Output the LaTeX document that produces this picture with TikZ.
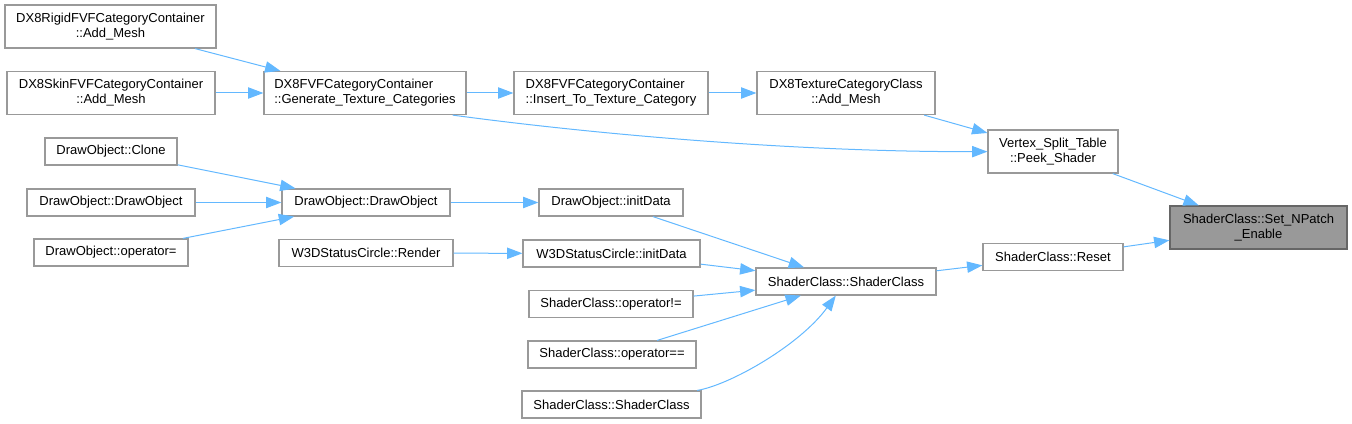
\documentclass[tikz,border=0pt]{standalone}
\usepackage{fontspec}
\setmainfont{Liberation Sans}
\usetikzlibrary{arrows.meta}
\definecolor{edgeblue}{HTML}{63B8FF}
\definecolor{boxgray}{HTML}{999999}
\definecolor{curfill}{HTML}{999999}
\definecolor{curline}{HTML}{666666}
\begin{document}
\begin{tikzpicture}[x=0.75pt,y=-0.75pt,every node/.style={font=\fontsize{9.75}{11.25}\selectfont}]
    \tikzset{
      fn/.style={draw=boxgray,fill=white,line width=0.9pt,rectangle,inner sep=0pt,
        minimum height=20.25pt,align=center},
      fnw/.style={fn,minimum height=32.25pt},
      cur/.style={fnw,draw=curline,fill=curfill},
      boxw/.style={minimum width=#1*0.75pt},
      call/.style={-{Triangle[length=11.5pt,width=8.5pt]},line width=0.75pt,edgeblue}
    }
    \useasboundingbox (0,0) rectangle (1352,424);

    \node[fnw,boxw=211] (rigid) at (110.5,26.5) {DX8RigidFVFCategoryContainer\\::Add\_Mesh};
    \node[fnw,boxw=208] (skin) at (111,93) {DX8SkinFVFCategoryContainer\\::Add\_Mesh};
    \node[fnw,boxw=202,align=left] (gen) at (365,93) {DX8FVFCategoryContainer\\::Generate\_Texture\_Categories};
    \node[fnw,boxw=194,align=left] (ins) at (611,93) {DX8FVFCategoryContainer\\::Insert\_To\_Texture\_Category};
    \node[fnw,boxw=178] (tex) at (846,93) {DX8TextureCategoryClass\\::Add\_Mesh};
    \node[fnw,boxw=130] (peek) at (1053,151.5) {Vertex\_Split\_Table\\::Peek\_Shader};
    \node[cur,boxw=177] (npatch) at (1258.5,227.5) {ShaderClass::Set\_NPatch\\\_Enable};
    \node[fn,boxw=140] (reset) at (1053,257) {ShaderClass::Reset};

    \node[fn,boxw=132] (clone) at (111,151.5) {DrawObject::Clone};
    \node[fn,boxw=168] (dobjl) at (111,202.5) {DrawObject::DrawObject};
    \node[fn,boxw=154] (dassign) at (111,252.5) {DrawObject::operator=};
    \node[fn,boxw=168] (dobj) at (366,202.5) {DrawObject::DrawObject};
    \node[fn,boxw=174] (render) at (366,253) {W3DStatusCircle::Render};
    \node[fn,boxw=144] (dinit) at (611,202.5) {DrawObject::initData};
    \node[fn,boxw=177] (winit) at (611.5,253.5) {W3DStatusCircle::initData};
    \node[fn,boxw=180] (shader) at (846,281.5) {ShaderClass::ShaderClass};
    \node[fn,boxw=164] (opne) at (611,304) {ShaderClass::operator!=};
    \node[fn,boxw=168] (opeq) at (612,354.5) {ShaderClass::operator==};
    \node[fn,boxw=179] (shaderb) at (611.5,404.5) {ShaderClass::ShaderClass};

    \draw[call] (rigid) -- (gen);
    \draw[call] (skin) -- (gen);
    \draw[call] (gen) -- (ins);
    \draw[call] (ins) -- (tex);
    \draw[call] (tex) -- (peek);
    \draw[call] ([xshift=-10.5pt]gen.south east) .. controls (600,135) and (800,152) .. (peek);
    \draw[call] (peek) -- (npatch);
    \draw[call] (reset) -- (npatch);
    \draw[call] (clone) -- (dobj);
    \draw[call] (dobjl) -- (dobj);
    \draw[call] (dassign) -- (dobj);
    \draw[call] (dobj) -- (dinit);
    \draw[call] (render) -- (winit);
    \draw[call] (dinit) -- (shader);
    \draw[call] (winit) -- (shader);
    \draw[call] (opne) -- (shader);
    \draw[call] (opeq) -- (shader);
    \draw[call] (shaderb) .. controls (730,385) and (800,345) .. (shader);
    \draw[call] (shader) -- (reset);
  \end{tikzpicture}
\end{document}
